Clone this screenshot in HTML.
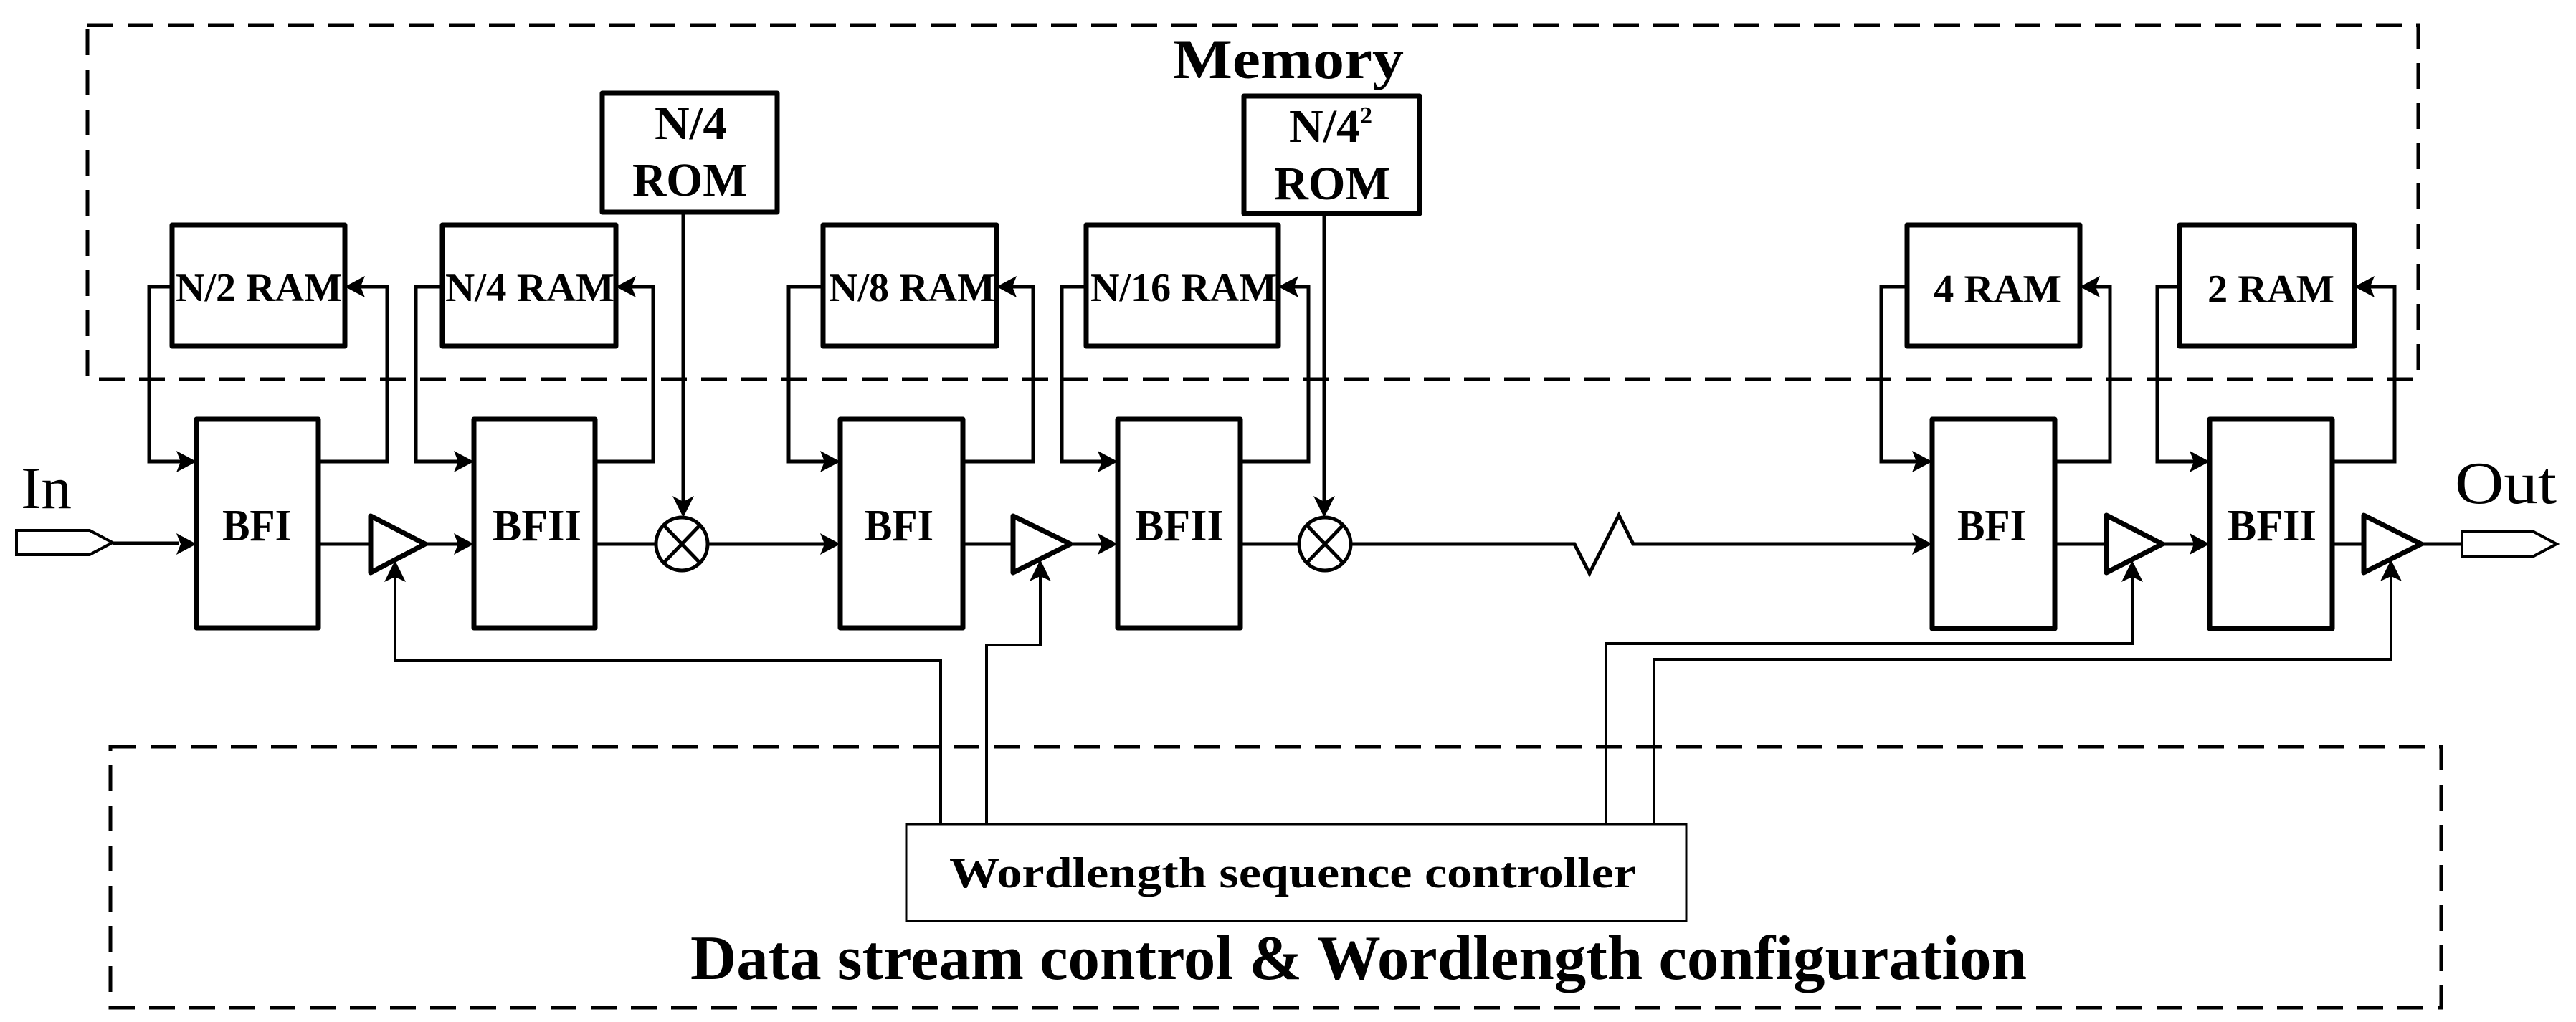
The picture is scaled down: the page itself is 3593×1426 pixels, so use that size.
<!DOCTYPE html>
<html><head><meta charset="utf-8"><style>html,body{margin:0;padding:0;background:#fff}svg{display:block}text{font-family:"Liberation Serif",serif}</style></head>
<body>
<svg width="3593" height="1426" viewBox="0 0 3593 1426" xmlns="http://www.w3.org/2000/svg">
<g fill="none" stroke="#000" stroke-width="5" stroke-dasharray="36 20">
<rect x="122" y="35" width="3251" height="494"/>
<rect x="154" y="1042" width="3251" height="364"/>
</g>
<g fill="none" stroke="#000" stroke-width="7" stroke-linejoin="round">
<rect x="240" y="314" width="241" height="169"/>
<rect x="617" y="314" width="242" height="169"/>
<rect x="1148" y="314" width="242" height="169"/>
<rect x="1515" y="314" width="268" height="169"/>
<rect x="2660" y="314" width="241" height="169"/>
<rect x="3040" y="314" width="244" height="169"/>
<rect x="840" y="130" width="244" height="166"/>
<rect x="1735" y="134" width="245" height="164"/>
<rect x="274" y="585" width="170" height="291"/>
<rect x="661" y="585" width="169" height="291"/>
<rect x="1172" y="585" width="171" height="291"/>
<rect x="1559" y="585" width="171" height="291"/>
<rect x="2695" y="585" width="171" height="292"/>
<rect x="3082" y="585" width="171" height="292"/>
<polygon points="517,720 593,759 517,799"/>
<polygon points="1413,720 1493,759 1413,799"/>
<polygon points="2938,719 3016,759 2938,799"/>
<polygon points="3297,719 3377,759 3297,799"/>
</g>
<g fill="none" stroke="#000" stroke-width="5">
<ellipse cx="951" cy="759" rx="36" ry="37"/>
<line x1="926" y1="733" x2="976" y2="785"/><line x1="976" y1="733" x2="926" y2="785"/>
<ellipse cx="1848" cy="759" rx="36" ry="37"/>
<line x1="1823" y1="733" x2="1873" y2="785"/><line x1="1873" y1="733" x2="1823" y2="785"/>
<polygon points="23,740 125,740 157,757 125,774 23,774" stroke-width="4"/>
<polygon points="3434,742 3534,742 3566,759 3534,776 3434,776" stroke-width="4"/>
<path d="M157 758H250 M444 759H517 M593 759H640 M830 759H914 M988 759H1150 M1343 759H1413 M1493 759H1538 M1730 759H1811 M1885 759H2196L2217 800L2258 719L2278 759H2673 M2866 759H2938 M3016 759H3061 M3253 759H3297 M3377 759H3434"/>
<path d="M240 400H208V644H252 M444 644H540V400H503"/>
<path d="M617 400H580V644H639 M830 644H911V400H881"/>
<path d="M1148 400H1100V644H1150 M1343 644H1441V400H1412"/>
<path d="M1515 400H1481V644H1537 M1730 644H1825V400H1805"/>
<path d="M2660 400H2624V644H2673 M2866 644H2943V400H2923"/>
<path d="M3040 400H3009V644H3060 M3253 644H3340V400H3306"/>
<path d="M953 296V700 M1847 298V700"/>
<path d="M1312 1150V922H551V805 M1376 1150V900H1451V804 M2240 1150V898H2974V805 M2307 1150V920H3335V804" stroke-width="4"/>
</g>
<g fill="#000">
<polygon points="274,759 246,744 252,759 246,774"/>
<polygon points="661,759 633,744 639,759 633,774"/>
<polygon points="1172,759 1144,744 1150,759 1144,774"/>
<polygon points="1559,759 1531,744 1537,759 1531,774"/>
<polygon points="2695,759 2667,744 2673,759 2667,774"/>
<polygon points="3082,759 3054,744 3060,759 3054,774"/>
<polygon points="274,644 246,629 252,644 246,659"/>
<polygon points="661,644 633,629 639,644 633,659"/>
<polygon points="1172,644 1144,629 1150,644 1144,659"/>
<polygon points="1559,644 1531,629 1537,644 1531,659"/>
<polygon points="2695,644 2667,629 2673,644 2667,659"/>
<polygon points="3082,644 3054,629 3060,644 3054,659"/>
<polygon points="481,400 509,385 503,400 509,415"/>
<polygon points="859,400 887,385 881,400 887,415"/>
<polygon points="1390,400 1418,385 1412,400 1418,415"/>
<polygon points="1783,400 1811,385 1805,400 1811,415"/>
<polygon points="2901,400 2929,385 2923,400 2929,415"/>
<polygon points="3284,400 3312,385 3306,400 3312,415"/>
<polygon points="953,722 938,692 953,700 968,692"/>
<polygon points="1847,722 1832,692 1847,700 1862,692"/>
<polygon points="551,782 536,812 551,805 566,812"/>
<polygon points="1451,781 1436,811 1451,804 1466,811"/>
<polygon points="2974,782 2959,812 2974,805 2989,812"/>
<polygon points="3335,781 3320,811 3335,804 3350,811"/>
</g>
<rect x="1264" y="1150" width="1088" height="135" fill="#fff" stroke="#000" stroke-width="3"/>
<g fill="#000" font-weight="bold">
<text x="1636" y="109" font-size="78" textLength="322" lengthAdjust="spacingAndGlyphs">Memory</text>
<text x="963" y="1366" font-size="88" textLength="1864" lengthAdjust="spacingAndGlyphs">Data stream control &amp; Wordlength configuration</text>
<text x="1324" y="1238" font-size="60" textLength="958" lengthAdjust="spacingAndGlyphs">Wordlength sequence controller</text>
<text x="245" y="420" font-size="56" textLength="232" lengthAdjust="spacingAndGlyphs">N/2 RAM</text>
<text x="621" y="420" font-size="56" textLength="236" lengthAdjust="spacingAndGlyphs">N/4 RAM</text>
<text x="1156" y="420" font-size="56" textLength="232" lengthAdjust="spacingAndGlyphs">N/8 RAM</text>
<text x="1521" y="420" font-size="56" textLength="260" lengthAdjust="spacingAndGlyphs">N/16 RAM</text>
<text x="2697" y="422" font-size="56" textLength="178" lengthAdjust="spacingAndGlyphs">4 RAM</text>
<text x="3079" y="422" font-size="56" textLength="177" lengthAdjust="spacingAndGlyphs">2 RAM</text>
<text x="913" y="194" font-size="66" textLength="101" lengthAdjust="spacingAndGlyphs">N/4</text>
<text x="882" y="273" font-size="66" textLength="160" lengthAdjust="spacingAndGlyphs">ROM</text>
<text x="1798" y="198" font-size="66">N/4<tspan font-size="34" dy="-26">2</tspan></text>
<text x="1777" y="278" font-size="66" textLength="162" lengthAdjust="spacingAndGlyphs">ROM</text>
<text x="310" y="754" font-size="62" textLength="96" lengthAdjust="spacingAndGlyphs">BFI</text>
<text x="687" y="754" font-size="62" textLength="124" lengthAdjust="spacingAndGlyphs">BFII</text>
<text x="1206" y="754" font-size="62" textLength="96" lengthAdjust="spacingAndGlyphs">BFI</text>
<text x="1583" y="754" font-size="62" textLength="124" lengthAdjust="spacingAndGlyphs">BFII</text>
<text x="2730" y="754" font-size="62" textLength="96" lengthAdjust="spacingAndGlyphs">BFI</text>
<text x="3107" y="754" font-size="62" textLength="124" lengthAdjust="spacingAndGlyphs">BFII</text>
</g>
<text x="29" y="709" font-size="84" textLength="71" lengthAdjust="spacingAndGlyphs">In</text>
<text x="3424" y="702" font-size="84" textLength="142" lengthAdjust="spacingAndGlyphs">Out</text>
</svg>
</body></html>
